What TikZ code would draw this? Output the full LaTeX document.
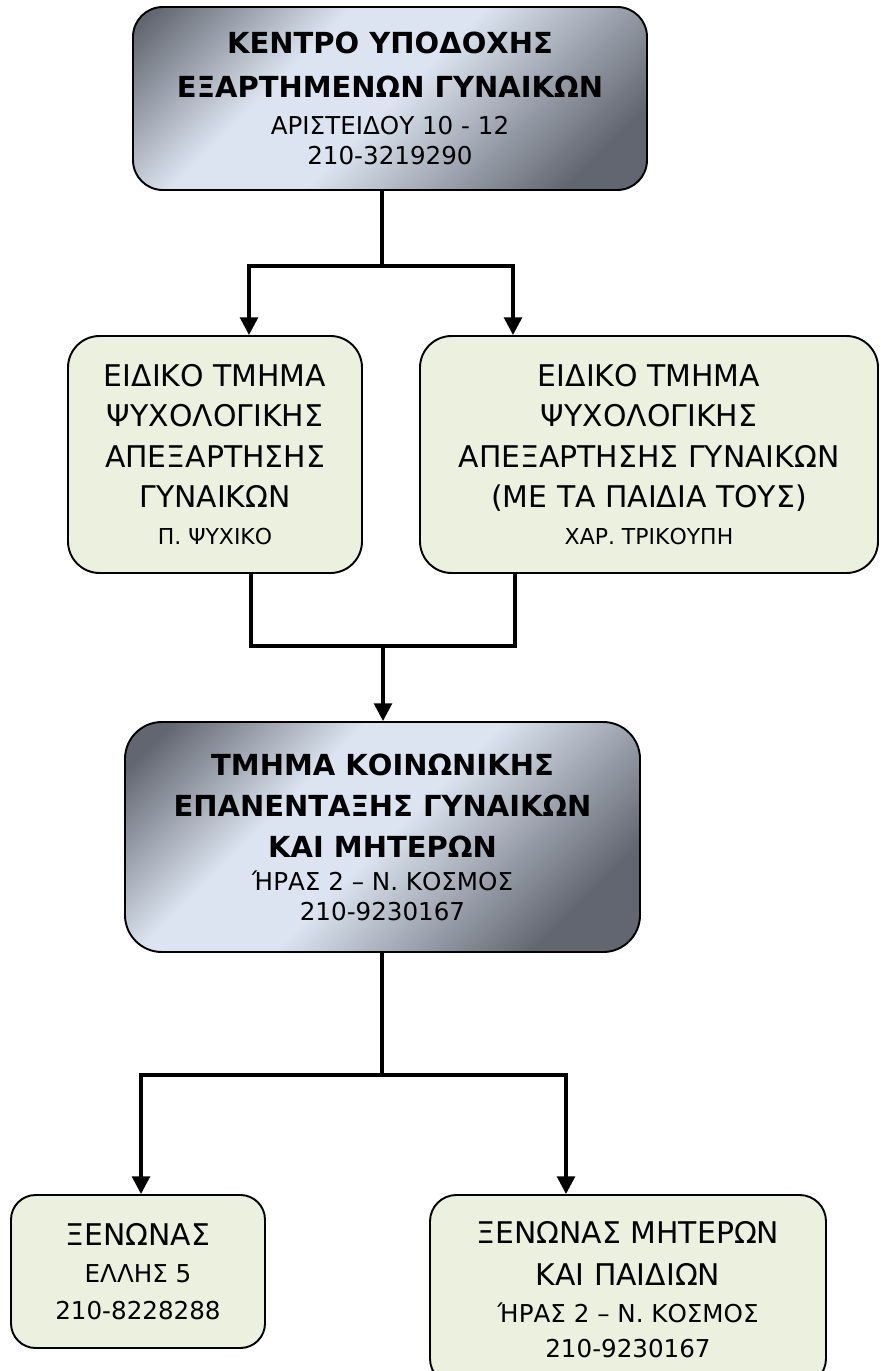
\documentclass[tikz,border=0pt]{standalone}
\usepackage{fontspec}
\setmainfont{DejaVu Sans}
\usetikzlibrary{arrows.meta}
\definecolor{silverdark}{RGB}{98,102,112}
\definecolor{silverlight}{RGB}{219,228,240}
\definecolor{boxgreen}{RGB}{235,241,222}
\pgfdeclarehorizontalshading{silverband}{340bp}{color(0bp)=(silverdark); color(40bp)=(silverdark); color(118bp)=(silverlight); color(172bp)=(silverlight); color(276bp)=(silverdark); color(340bp)=(silverdark)}
\newcommand{\headfont}{\fontsize{16.5}{20}\bfseries\selectfont}
\newcommand{\bigfont}{\fontsize{17}{20}\selectfont}
\newcommand{\addrfont}{\fontsize{14}{17}\selectfont}
\newcommand{\smallfont}{\fontsize{12.5}{15}\selectfont}
\tikzset{
	headbox/.style={draw, line width=1.1pt, align=center, inner sep=0pt, font=\addrfont,
		path picture={\node[rotate=-45, inner sep=0pt] at (path picture bounding box.center) {\pgfuseshading{silverband}};}},
	unitbox/.style={draw, line width=1.1pt, fill=boxgreen, align=center, inner sep=0pt, font=\bigfont},
	link/.style={line width=2pt},
	arr/.style={link, -{Triangle[width=10pt,length=10pt]}}
}
\begin{document}
\begin{tikzpicture}[x=0.02cm,y=-0.02cm]
	\useasboundingbox (0,0) rectangle (880,1371);
	\node[headbox, rounded corners=17pt, minimum width=514*0.02cm, minimum height=183*0.02cm] (centre) at (390,98.5)
		{\headfont ΚΕΝΤΡΟ ΥΠΟΔΟΧΗΣ\\[8pt]\headfont ΕΞΑΡΤΗΜΕΝΩΝ ΓΥΝΑΙΚΩΝ\\[4pt]\addrfont ΑΡΙΣΤΕΙΔΟΥ 10 - 12\\\addrfont 210-3219290};
	\node[unitbox, rounded corners=18pt, minimum width=294*0.02cm, minimum height=237*0.02cm] (psychA) at (215,454.5)
		{ΕΙΔΙΚΟ ΤΜΗΜΑ\\[3pt]ΨΥΧΟΛΟΓΙΚΗΣ\\[3pt]ΑΠΕΞΑΡΤΗΣΗΣ\\[3pt]ΓΥΝΑΙΚΩΝ\\[1pt]\smallfont Π. ΨΥΧΙΚΟ};
	\node[unitbox, rounded corners=18pt, minimum width=458*0.02cm, minimum height=237*0.02cm] (psychB) at (649,454.5)
		{ΕΙΔΙΚΟ ΤΜΗΜΑ\\[3pt]ΨΥΧΟΛΟΓΙΚΗΣ\\[3pt]ΑΠΕΞΑΡΤΗΣΗΣ ΓΥΝΑΙΚΩΝ\\[3pt](ΜΕ ΤΑ ΠΑΙΔΙΑ ΤΟΥΣ)\\[1pt]\smallfont ΧΑΡ. ΤΡΙΚΟΥΠΗ};
	\node[headbox, rounded corners=21pt, minimum width=515*0.02cm, minimum height=230*0.02cm] (social) at (382.5,837)
		{\headfont ΤΜΗΜΑ ΚΟΙΝΩΝΙΚΗΣ\\[6.5pt]\headfont ΕΠΑΝΕΝΤΑΞΗΣ ΓΥΝΑΙΚΩΝ\\[6.5pt]\headfont ΚΑΙ ΜΗΤΕΡΩΝ\\[1.5pt]\addrfont ΉΡΑΣ 2 – Ν. ΚΟΣΜΟΣ\\\addrfont 210-9230167};
	\node[unitbox, rounded corners=14pt, minimum width=254*0.02cm, minimum height=153*0.02cm] (hostel) at (138,1271.5)
		{ΞΕΝΩΝΑΣ\\[1pt]\addrfont ΕΛΛΗΣ 5\\[1pt]\addrfont 210-8228288};
	\node[unitbox, rounded corners=15pt, minimum width=396*0.02cm, minimum height=190*0.02cm] (mothers) at (628,1290)
		{ΞΕΝΩΝΑΣ ΜΗΤΕΡΩΝ\\[4pt]ΚΑΙ ΠΑΙΔΙΩΝ\\[1pt]\addrfont ΉΡΑΣ 2 – Ν. ΚΟΣΜΟΣ\\\addrfont 210-9230167};
	\coordinate (split1) at (382,266);
	\coordinate (split1l) at (249,266);
	\coordinate (split1r) at (513,266);
	\coordinate (merge) at (383,646);
	\coordinate (mergel) at (251,646);
	\coordinate (merger) at (515,646);
	\coordinate (split2) at (382,1075);
	\coordinate (split2l) at (141,1075);
	\coordinate (split2r) at (566,1075);
	\draw[link] (centre.south -| split1) -- (split1);
	\draw[arr] (split1) -- (split1l) -- (split1l |- psychA.north);
	\draw[arr] (split1) -- (split1r) -- (split1r |- psychB.north);
	\draw[link] (psychA.south -| mergel) -- (mergel) -- (merger) -- (psychB.south -| merger);
	\draw[arr] (merge) -- (merge |- social.north);
	\draw[link] (social.south -| split2) -- (split2);
	\draw[arr] (split2) -- (split2l) -- (split2l |- hostel.north);
	\draw[arr] (split2) -- (split2r) -- (split2r |- mothers.north);
\end{tikzpicture}
\end{document}
